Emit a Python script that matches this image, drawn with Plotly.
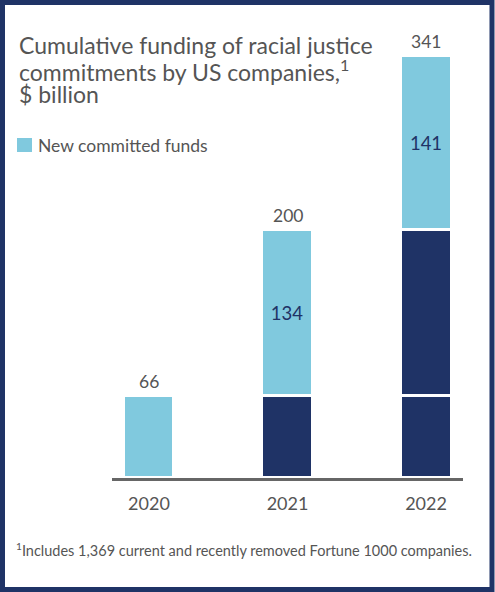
import plotly.graph_objects as go

# Data
years = ["2020", "2021", "2022"]
new_funds = [66, 134, 141]          # $ billion committed in each year
legend_label = "New committed funds"
title_lines = ["Cumulative funding of racial justice",
               "commitments by US companies,<sup>1</sup>",
               "$ billion"]
footnote = "<sup>1</sup>Includes 1,369 current and recently removed Fortune 1000 companies."

# Styling
W, H = 495, 592
ML, MR, MT, MB = 112, 32, 30, 114
PW, PH = W - ML - MR, H - MT - MB
LIGHT = "#80C9DE"
NAVY = "#1F3366"
GREY = "#555555"
FONT = "Lato"
BAR_W = 0.368


def px_x(p):
    return (p - ML) / PW


def px_y(p):
    return (H - MB - p) / PH


cumulative = []
running = 0
for v in new_funds:
    running += v
    cumulative.append(running)

idx = list(range(len(years)))
fig = go.Figure()

# Funds committed in earlier years, one navy segment per cohort
for j in range(len(years) - 1):
    vals = [new_funds[j] if i > j else None for i in idx]
    fig.add_trace(go.Bar(
        x=idx, y=vals, marker=dict(color=NAVY, line=dict(color="white", width=3)),
        width=BAR_W, showlegend=False, hoverinfo="skip"))

# New funds committed in the year itself
fig.add_trace(go.Bar(
    x=idx, y=new_funds, name=legend_label,
    marker=dict(color=LIGHT, line=dict(color="white", width=3)),
    width=BAR_W,
    text=[str(v) if i > 0 else "" for i, v in enumerate(new_funds)],
    textposition="inside", insidetextanchor="middle",
    textfont=dict(family=FONT, size=18.5, color=NAVY),
    showlegend=False))

# Totals above each bar
for i, tot in zip(idx, cumulative):
    fig.add_annotation(x=i, y=tot, xref="x", yref="y", text=str(tot), showarrow=False,
                       yanchor="bottom", yshift=2,
                       font=dict(family=FONT, size=17.5, color=GREY))

# Title
for k, (line, yc) in enumerate(zip(title_lines, [45, 70, 94])):
    fig.add_annotation(xref="paper", yref="paper", x=px_x(17), y=px_y(yc),
                       xanchor="left", yanchor="middle", showarrow=False,
                       text=line, font=dict(family=FONT, size=23, color=GREY))

# Legend key
fig.add_shape(type="rect", xref="paper", yref="paper",
              x0=px_x(17), x1=px_x(32), y0=px_y(152), y1=px_y(138),
              line=dict(width=0), fillcolor=LIGHT)
fig.add_annotation(xref="paper", yref="paper", x=px_x(36), y=px_y(145),
                   xanchor="left", yanchor="middle", showarrow=False,
                   text=legend_label, font=dict(family=FONT, size=17.5, color=GREY))

# Footnote
fig.add_annotation(xref="paper", yref="paper", x=px_x(14), y=px_y(549),
                   xanchor="left", yanchor="middle", showarrow=False,
                   text=footnote, font=dict(family=FONT, size=14.5, color=GREY))

# Frame around the graphic
fig.add_shape(type="rect", xref="paper", yref="paper",
              x0=px_x(2.5), x1=px_x(492), y0=px_y(589.5), y1=px_y(2.5),
              line=dict(color=NAVY, width=5), fillcolor="rgba(0,0,0,0)", layer="above")

fig.update_layout(
    width=W, height=H,
    margin=dict(l=ML, r=MR, t=MT, b=MB),
    paper_bgcolor="white", plot_bgcolor="white",
    barmode="stack", bargap=0, showlegend=False,
    font=dict(family=FONT, color=GREY),
    xaxis=dict(range=[-0.267, 2.267], showgrid=False, zeroline=False,
               tickmode="array", tickvals=idx, ticktext=years,
               showline=True, linecolor="#666666", linewidth=3,
               ticks="", ticklabelstandoff=7,
               tickfont=dict(family=FONT, size=18, color=GREY), fixedrange=True),
    yaxis=dict(range=[0, 362], visible=False, fixedrange=True),
)

fig.write_html("out.html")
